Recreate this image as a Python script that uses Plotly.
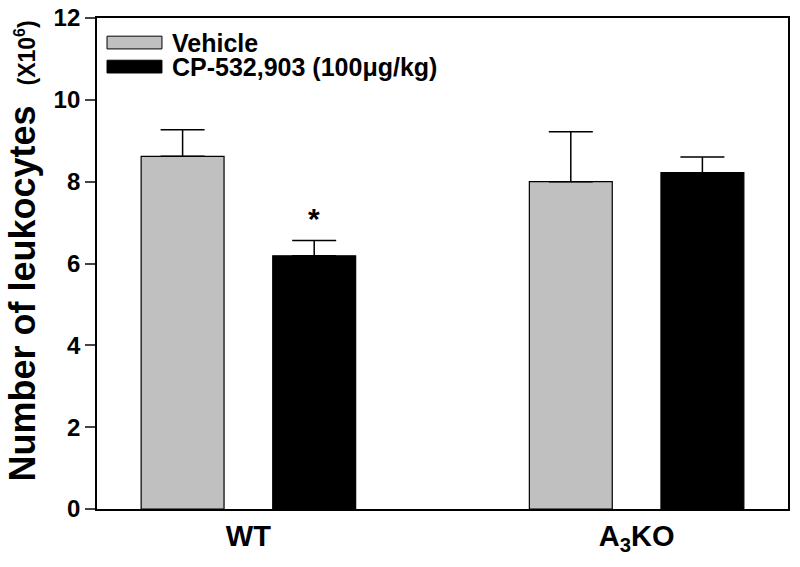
import plotly.graph_objects as go

groups = ["WT", "A<sub>3</sub>KO"]
series_names = ["Vehicle", "CP-532,903 (100\u03bcg/kg)"]
vehicle = [8.62, 8.0]
vehicle_err = [0.65, 1.22]
cp = [6.19, 8.22]
cp_err = [0.37, 0.38]
y_ticks = [0, 2, 4, 6, 8, 10, 12]

FONT = "Liberation Sans, Arial"
colors = ["#c0c0c0", "#000000"]

fig = go.Figure()
for name, vals, errs, col in [(series_names[0], vehicle, vehicle_err, colors[0]),
                              (series_names[1], cp, cp_err, colors[1])]:
    fig.add_trace(go.Bar(
        x=groups, y=vals, name=name,
        marker=dict(color=col, line=dict(color="black", width=1.2)),
        error_y=dict(type="data", array=errs, arrayminus=[0]*len(errs), symmetric=False,
                     color="black", thickness=1.5, width=22),
        showlegend=False,
    ))

bargap = 0.322
fig.update_layout(
    barmode="group", bargap=bargap, bargroupgap=0.37,
    width=800, height=567,
    margin=dict(l=97, r=12, t=18, b=58, autoexpand=False),
    plot_bgcolor="white", paper_bgcolor="white",
    font=dict(family=FONT, color="black"),
    xaxis=dict(type="category", range=[-0.39, 1.39], showline=True, linecolor="black",
               linewidth=1.8, mirror=True, ticks="", showgrid=False,
               tickfont=dict(size=29, family=FONT, weight="bold")),
    yaxis=dict(range=[0, 12], tickvals=y_ticks, showline=True, linecolor="black",
               linewidth=1.8, mirror=True, ticks="outside", ticklen=10, tickwidth=1.5,
               showgrid=False, zeroline=False,
               tickfont=dict(size=24, family=FONT, weight="bold")),
)

# asterisk above CP bar in WT group
slot = (1 - bargap) / 2
fig.add_annotation(x=slot / 2, y=cp[0] + cp_err[0], xref="x", yref="y",
                   text="<b>*</b>", showarrow=False, yanchor="bottom", yshift=4,
                   font=dict(size=30, family=FONT))

# Y axis title
fig.add_annotation(x=-0.108, y=0.525, xref="paper", yref="paper", textangle=-90,
                   text="<b>Number of leukocytes</b>&nbsp;&nbsp;<span style='font-size:23px'><b>(X10<sup>6</sup>)</b></span>",
                   showarrow=False, font=dict(size=36, family=FONT),
                   xanchor="center", yanchor="middle")

# Custom legend
leg_y = [0.950, 0.901]
for i, (name, col) in enumerate(zip(series_names, colors)):
    fig.add_shape(type="rect", xref="paper", yref="paper",
                  x0=0.0145, x1=0.094, y0=leg_y[i] - 0.013, y1=leg_y[i] + 0.013,
                  fillcolor=col, line=dict(color="black", width=1))
    fig.add_annotation(x=0.1056, y=leg_y[i], xref="paper", yref="paper",
                       text="<b>" + name + "</b>", showarrow=False, xanchor="left",
                       yanchor="middle", font=dict(size=25, family=FONT))

fig.write_html("out.html", config={"displayModeBar": False},
               post_script="document.body.style.margin='0';document.body.style.padding='0';")
